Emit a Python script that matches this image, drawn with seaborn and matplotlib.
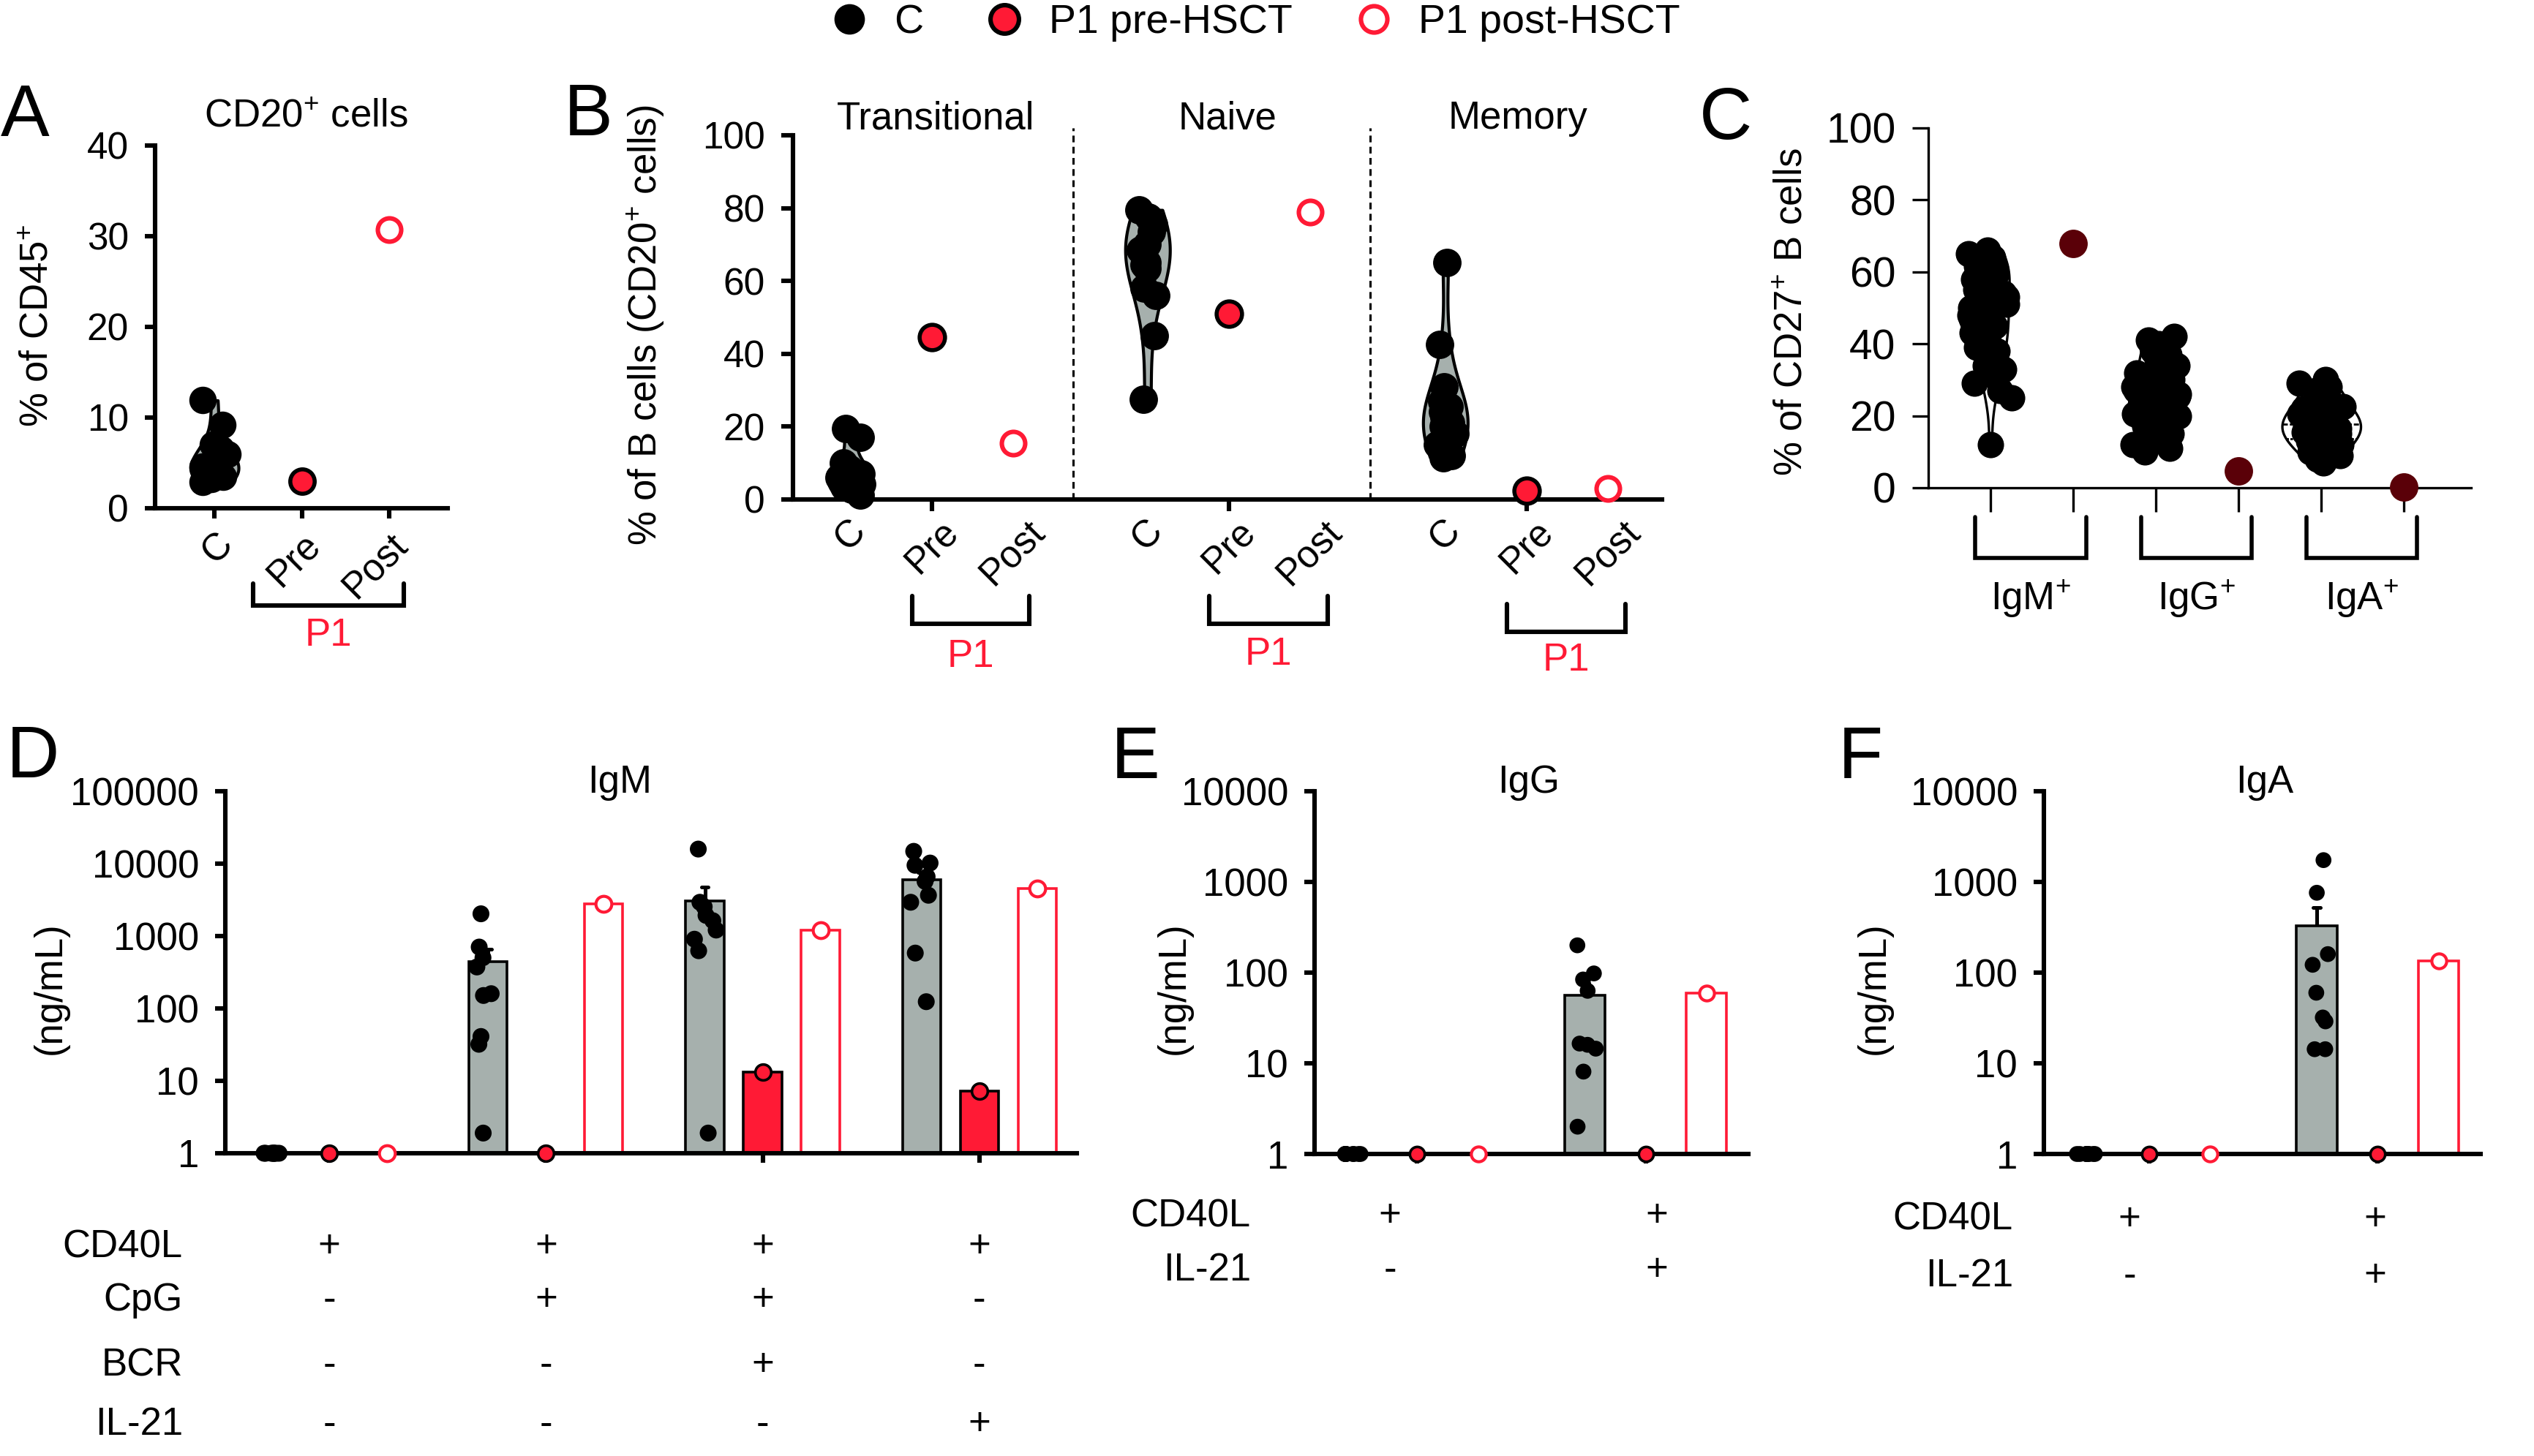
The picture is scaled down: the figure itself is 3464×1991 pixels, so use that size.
import numpy as np
import pandas as pd
import matplotlib
matplotlib.use("Agg")
import matplotlib.pyplot as plt
import matplotlib.transforms as mtransforms
from matplotlib.lines import Line2D
from matplotlib.ticker import NullLocator
import seaborn as sns

np.random.seed(7)

# ------------------------------------------------------------------ data
# A: CD20+ cells, % of CD45+
a_groups = ["C", "Pre", "Post"]
a_ctrl = [11.9, 9.2, 7.0, 6.5, 6.0, 5.5, 5.0, 4.6, 4.2, 4.0, 3.8, 3.5, 3.2, 2.9]
a_pre = [3.0]
a_post = [30.7]

# B: B cell subsets, % of CD20+
b_subsets = ["Transitional", "Naive", "Memory"]
b_trans_ctrl = [19.5, 17.0, 10.0, 8.5, 7.0, 6.0, 5.0, 4.2, 3.5, 2.8, 1.2]
b_naive_ctrl = [79.5, 77.5, 75.5, 73.5, 70.0, 68.5, 65.0, 64.5, 63.5, 58.0, 56.0, 45.0, 27.5]
b_mem_ctrl = [65.0, 42.5, 31.0, 27.0, 25.5, 24.0, 22.5, 21.0, 20.0, 18.0, 15.0, 12.0, 11.5]
b_pre = [44.5, 51.0, 2.5]
b_post = [15.5, 79.0, 3.0]

# C: isotypes, % of CD27+ B cells
c_isotypes = ["IgM", "IgG", "IgA"]
c_igm_ctrl = [66, 65, 64, 63, 62.5, 62, 61.5, 61, 60.5, 60, 59.5, 59, 58, 57, 55, 54, 53,
              52, 51, 50, 49, 48, 47.5, 47, 46, 45, 44, 43, 42, 41, 40, 39, 38, 37, 36, 34,
              33, 31, 29, 27, 25, 12]
c_igg_ctrl = [42, 41, 40, 39, 38, 37, 35.5, 34, 33, 32, 31, 30, 29, 28, 27.5, 27, 26, 25.5,
              25, 24, 23.5, 23, 22, 21.5, 21, 20.5, 20, 19, 18.5, 18, 17, 16, 15, 14, 13,
              12, 11, 10]
c_iga_ctrl = [30, 29, 28, 27, 26, 25, 24, 23, 22.5, 22, 21, 20.5, 20, 19.5, 19, 18.5, 18,
              17.5, 17, 16.5, 16, 15.5, 15, 14.5, 14, 13.5, 13, 12, 11.5, 11, 10, 9, 8, 7]
c_p1 = [67.8, 4.7, 0.2]

# D: IgM secretion (ng/mL)
d_conds = ["CD40L", "CD40L+CpG", "CD40L+CpG+BCR", "CD40L+IL-21"]
igm_ctrl_cd40l = [1, 1, 1, 1, 1, 1, 1, 1, 1]
igm_ctrl_cpg = [2030, 705, 502, 374, 160, 151, 41, 32, 1.9]
igm_ctrl_cpg_bcr = [15900, 2930, 2540, 1930, 1630, 1210, 905, 627, 1.9]
igm_ctrl_il21 = [14800, 10200, 9500, 6600, 5690, 3660, 2930, 582, 124]
igm_pre = [1, 1, 13.1, 7.3]
igm_post = [1, 2810, 1210, 4560]

# E, F: IgG / IgA secretion (ng/mL)
ef_conds = ["CD40L", "CD40L+IL-21"]
igg_ctrl_cd40l = [1, 1, 1, 1, 1, 1, 1, 1, 1]
igg_ctrl_il21 = [200, 98, 84, 63, 16.5, 16, 14.5, 8.1, 2.0]
igg_pre = [1, 1]
igg_post = [1, 60]
iga_ctrl_cd40l = [1, 1, 1, 1, 1, 1, 1, 1, 1]
iga_ctrl_il21 = [1740, 760, 160, 122, 60, 32, 29, 14.3, 14.3]
iga_pre = [1, 1]
iga_post = [1, 134]

# condition tables
d_rows = ["CD40L", "CpG", "BCR", "IL-21"]
d_signs = [["+", "+", "+", "+"], ["-", "+", "+", "-"], ["-", "-", "+", "-"], ["-", "-", "-", "+"]]
ef_rows = ["CD40L", "IL-21"]
ef_signs = [["+", "+"], ["-", "+"]]

# ------------------------------------------------------------------ style
W, H, DPI = 3464, 1991, 200
RED = "#FF1A35"
GREY = "#A6B0AD"
MAROON = "#5A0008"
FS = 19

sns.set_theme(style="ticks")
plt.rcParams.update({
    "font.family": ["Liberation Sans", "DejaVu Sans"],
    "font.size": FS,
    "mathtext.fontset": "custom",
    "mathtext.rm": "Liberation Sans",
    "mathtext.it": "Liberation Sans:italic",
    "mathtext.bf": "Liberation Sans:bold",
    "axes.edgecolor": "black",
    "axes.labelcolor": "black",
    "text.color": "black",
    "xtick.color": "black",
    "ytick.color": "black",
})

fig = plt.figure(figsize=(W / DPI, H / DPI), dpi=DPI)


def fy(py):
    return 1 - py / H


def panel_axes(left, top, right, bottom):
    return fig.add_axes([left / W, fy(bottom), (right - left) / W, (bottom - top) / H])


def style(ax, lw, size, ylen, pad):
    sns.despine(ax=ax)
    for s in ("left", "bottom"):
        ax.spines[s].set_linewidth(lw)
    ax.tick_params(axis="both", width=lw, labelsize=size, direction="out")
    ax.tick_params(axis="y", length=ylen, pad=pad)


def xfig(ax):
    return mtransforms.blended_transform_factory(ax.transData, fig.transFigure)


def bracket(ax, x0, x1, top, bottom, label_y, label="P1", color=RED, lw=2.2):
    tr = xfig(ax)
    ax.plot([x0, x0, x1, x1], [fy(top), fy(bottom), fy(bottom), fy(top)], transform=tr,
            color="black", lw=lw, clip_on=False, solid_joinstyle="miter")
    ax.text((x0 + x1) / 2, fy(label_y), label, transform=tr, ha="center", va="center",
            color=color, fontsize=FS)


# ------------------------------------------------------------------ legend + letters
handles = [
    Line2D([], [], ls="", marker="o", ms=14, mfc="black", mec="black"),
    Line2D([], [], ls="", marker="o", ms=14, mfc=RED, mec="black", mew=2.2),
    Line2D([], [], ls="", marker="o", ms=13, mfc="white", mec=RED, mew=2.2),
]
fig.legend(handles, ["C", "P1 pre-HSCT", "P1 post-HSCT"], loc="center",
           bbox_to_anchor=(0.495, fy(31)), ncol=3, frameon=False, fontsize=20,
           handlelength=1.0, handletextpad=0.6, columnspacing=1.5)

for letter, (px, py) in {"A": (34, 186), "B": (804, 185), "C": (2359, 190),
                         "D": (45, 1063), "E": (1552, 1064), "F": (2543, 1064)}.items():
    fig.text(px / W, fy(py), letter, fontsize=36, ha="center", va="baseline")

# ------------------------------------------------------------------ A
axA = panel_axes(212, 199, 612, 695)
dfA = pd.DataFrame({
    "group": ["C"] * len(a_ctrl) + ["Pre"] * len(a_pre) + ["Post"] * len(a_post),
    "value": a_ctrl + a_pre + a_post,
})
cA = dfA[dfA["group"] == "C"]
sns.violinplot(data=cA, x="group", y="value", order=a_groups, cut=0, inner=None, width=0.55,
               color=GREY, saturation=1, linecolor="black", linewidth=1.5, ax=axA)
sns.stripplot(data=cA, x="group", y="value", order=a_groups, jitter=0.16, color="black",
              size=13.5, linewidth=0, zorder=3, clip_on=False, ax=axA)
sns.stripplot(data=dfA[dfA["group"] == "Pre"], x="group", y="value", order=a_groups,
              jitter=False, color=RED, edgecolor="black", linewidth=2, size=12,
              zorder=3, clip_on=False, ax=axA)
sns.stripplot(data=dfA[dfA["group"] == "Post"], x="group", y="value", order=a_groups,
              jitter=False, color="white", edgecolor=RED, linewidth=2.2, size=11.5,
              zorder=3, clip_on=False, ax=axA)
style(axA, 2.2, 18.5, 5, 8)
axA.set_xlim(-0.68, 2.67)
axA.set_ylim(0, 40)
axA.set_yticks([0, 10, 20, 30, 40])
axA.set_xticks([0, 1, 2])
axA.set_xticklabels(a_groups, rotation=45, ha="right", va="top", rotation_mode="anchor")
axA.tick_params(axis="x", length=5, pad=4)
axA.set_xlabel("")
axA.set_ylabel("% of CD45$^{+}$", fontsize=FS)
axA.yaxis.set_label_coords(-0.34, 0.504)
axA.text(0.515, 1.08, "CD20$^{+}$ cells", transform=axA.transAxes, ha="center", va="center")
bracket(axA, 0.44, 2.17, 798, 828, 869)

# ------------------------------------------------------------------ B
axB = panel_axes(1084, 185, 2272, 683)
b_offsets = [0.0, 3.66, 7.33]
rows = []
for name, off, ctrl, pre, post in zip(b_subsets, b_offsets,
                                       [b_trans_ctrl, b_naive_ctrl, b_mem_ctrl], b_pre, b_post):
    rows += [(name, "C", off, v) for v in ctrl]
    rows += [(name, "Pre", off + 1, pre), (name, "Post", off + 2, post)]
dfB = pd.DataFrame(rows, columns=["subset", "group", "pos", "value"])

for name in b_subsets:
    cB = dfB[(dfB["subset"] == name) & (dfB["group"] == "C")]
    sns.violinplot(data=cB, x="pos", y="value", native_scale=True, orient="x", cut=0,
                   inner=None, width=0.55, color=GREY, saturation=1, linecolor="black",
                   linewidth=1.5, ax=axB)
    sns.stripplot(data=cB, x="pos", y="value", native_scale=True, orient="x", jitter=0.15,
                  color="black", size=14, linewidth=0, zorder=3, clip_on=False, ax=axB)
sns.scatterplot(data=dfB[dfB["group"] == "Pre"], x="pos", y="value", s=12.5 ** 2, color=RED,
                edgecolor="black", linewidth=2, zorder=3, clip_on=False, legend=False, ax=axB)
sns.scatterplot(data=dfB[dfB["group"] == "Post"], x="pos", y="value", s=11.5 ** 2,
                color="white", edgecolor=RED, linewidth=2.2, zorder=3, clip_on=False,
                legend=False, ax=axB)
style(axB, 2.2, 18.5, 5.8, 8)
axB.set_xlim(-0.71, 10.0)
axB.set_ylim(0, 100)
axB.set_yticks([0, 20, 40, 60, 80, 100])
b_pos = [off + k for off in b_offsets for k in range(3)]
b_labels = a_groups * 3
axB.set_xticks(b_pos)
axB.set_xticklabels(b_labels, rotation=45, ha="center", va="top")
axB.tick_params(axis="x", length=5.8, pad=1)
for tick, lab in zip(axB.xaxis.get_major_ticks(), b_labels):
    tick.tick1line.set_visible(lab == "Pre")
axB.set_xlabel("")
axB.set_ylabel("% of B cells (CD20$^{+}$ cells)", fontsize=FS)
axB.yaxis.set_label_coords(-0.146, 0.478)
tr_axB = mtransforms.blended_transform_factory(axB.transData, axB.transAxes)
for xd in [2.74, 6.40]:
    axB.plot([xd, xd], [0, 1.02], transform=tr_axB, color="black", lw=1.1,
             ls=(0, (3, 2)), clip_on=False)
for name, xd in zip(b_subsets, [1.05, 4.65, 8.22]):
    axB.text(xd, 1.046, name, transform=tr_axB, ha="center", va="center", fontsize=FS)
bracket(axB, 0.76, 2.2, 815, 853, 898)
bracket(axB, 4.42, 5.88, 815, 853, 895)
bracket(axB, 8.09, 9.55, 826, 864, 903)

# ------------------------------------------------------------------ C
axC = panel_axes(2636, 175, 3378, 667)
c_order = [f"{iso} {g}" for iso in c_isotypes for g in ("C", "P1")]
rows = []
for iso, ctrl, p1 in zip(c_isotypes, [c_igm_ctrl, c_igg_ctrl, c_iga_ctrl], c_p1):
    rows += [(f"{iso} C", "C", v) for v in ctrl]
    rows.append((f"{iso} P1", "P1", p1))
dfC = pd.DataFrame(rows, columns=["cat", "group", "value"])
cC = dfC[dfC["group"] == "C"]
sns.violinplot(data=cC, x="cat", y="value", order=c_order, cut=0, inner="quart", width=0.95,
               color="white", saturation=1, linecolor="black", linewidth=1.2,
               inner_kws={"linestyle": "-", "linewidth": 1.0, "color": "black"}, ax=axC)
# pick a jitter seed that keeps the lone low IgM value on the violin tip
C_JITTER = 0.28
low_idx = c_igm_ctrl.index(min(c_igm_ctrl))
seed = next(s for s in range(1000)
            if abs(np.random.RandomState(s).uniform(-C_JITTER, C_JITTER, len(cC))[low_idx]) < 0.03)
np.random.seed(seed)
sns.stripplot(data=cC, x="cat", y="value", order=c_order, jitter=C_JITTER, color="black",
              size=13, linewidth=0, zorder=3, clip_on=False, ax=axC)
sns.stripplot(data=dfC[dfC["group"] == "P1"], x="cat", y="value", order=c_order, jitter=False,
              color=MAROON, size=14, linewidth=0, zorder=3, clip_on=False, ax=axC)
style(axC, 1.2, 20.5, 8, 8)
axC.set_xlim(-0.75, 5.81)
axC.set_ylim(0, 100)
axC.set_yticks([0, 20, 40, 60, 80, 100])
axC.set_xticks(range(6))
axC.set_xticklabels([])
axC.tick_params(axis="x", length=12)
axC.set_xlabel("")
axC.set_ylabel("% of CD27$^{+}$ B cells", fontsize=FS)
axC.yaxis.set_label_coords(-0.218, 0.488)
for i, iso in enumerate(c_isotypes):
    bracket(axC, 2 * i - 0.18, 2 * i + 1.16, 707, 763, 819, label=f"{iso}$^{{+}}$",
            color="black", lw=2.0)

# ------------------------------------------------------------------ D, E, F
HUES = ["C", "Pre", "Post"]
BAR_FACE = {"C": GREY, "Pre": RED, "Post": "white"}
BAR_EDGE = {"C": "black", "Pre": "black", "Post": RED}
DOT_FACE = {"C": "black", "Pre": RED, "Post": "white"}


def long_ig(conds, ctrl, pre, post):
    rows = []
    for c, vals in zip(conds, ctrl):
        rows += [(c, "C", v) for v in vals]
    rows += [(c, "Pre", v) for c, v in zip(conds, pre)]
    rows += [(c, "Post", v) for c, v in zip(conds, post)]
    return pd.DataFrame(rows, columns=["cond", "group", "value"])


def ig_panel(ax, df, conds, top, dot, title, title_x, xlim, label_x):
    for g in HUES:
        sns.barplot(data=df[df["group"] == g], x="cond", y="value", hue="group",
                    hue_order=HUES, order=conds, palette=BAR_FACE, saturation=1, dodge=True,
                    gap=0.34, errorbar="se" if g == "C" else None, capsize=0.1,
                    err_kws={"color": "black", "linewidth": 1.8},
                    edgecolor=BAR_EDGE[g], linewidth=1.3, legend=False, ax=ax)
    for ln in ax.lines:
        ln.set_zorder(0.6)  # only the upper half of the SEM bar shows
    sns.stripplot(data=df[df["group"] == "C"], x="cond", y="value", hue="group",
                  hue_order=HUES, order=conds, dodge=True, jitter=0.16, palette=DOT_FACE,
                  size=dot, linewidth=0, legend=False, zorder=3, clip_on=False, ax=ax)
    sns.stripplot(data=df[df["group"] == "Pre"], x="cond", y="value", hue="group",
                  hue_order=HUES, order=conds, dodge=True, jitter=False, palette=DOT_FACE,
                  edgecolor="black", linewidth=1.3, size=dot - 0.5, legend=False, zorder=3,
                  clip_on=False, ax=ax)
    sns.stripplot(data=df[df["group"] == "Post"], x="cond", y="value", hue="group",
                  hue_order=HUES, order=conds, dodge=True, jitter=False, palette=DOT_FACE,
                  edgecolor=RED, linewidth=1.5, size=dot - 0.5, legend=False, zorder=3,
                  clip_on=False, ax=ax)
    ax.set_yscale("log")
    style(ax, 2.2, FS, 5, 8)
    ax.set_ylim(1, top)
    decades = [10 ** k for k in range(int(round(np.log10(top))) + 1)]
    ax.set_yticks(decades)
    ax.set_yticklabels([str(d) for d in decades])
    ax.yaxis.set_minor_locator(NullLocator())
    ax.set_xlim(*xlim)
    ax.set_xticks(range(len(conds)))
    ax.set_xticklabels([])
    ax.tick_params(axis="x", length=4.5)
    ax.set_xlabel("")
    ax.set_ylabel("(ng/mL)", fontsize=FS)
    ax.yaxis.set_label_coords(label_x, 0.457)
    ax.text(title_x, 1.024, title, transform=ax.transAxes, ha="center", va="center")


def cond_table(ax, rows, signs, label_right, ys, xs):
    tr = xfig(ax)
    for name, row, py in zip(rows, signs, ys):
        fig.text(label_right / W, fy(py), name, ha="right", va="center", fontsize=FS)
        for xd, s in zip(xs, row):
            ax.text(xd, fy(py), s, transform=tr, ha="center", va="center", fontsize=FS)


axD = panel_axes(308, 1082, 1472, 1577)
dfD = long_ig(d_conds, [igm_ctrl_cd40l, igm_ctrl_cpg, igm_ctrl_cpg_bcr, igm_ctrl_il21],
              igm_pre, igm_post)
ig_panel(axD, dfD, d_conds, 1e5, 8.3, "IgM", 0.463, (-0.48, 3.45), -0.184)
cond_table(axD, d_rows, d_signs, 250, [1705, 1778, 1867, 1948], [0, 1, 2, 3])

axE = panel_axes(1797, 1082, 2390, 1578)
dfE = long_ig(ef_conds, [igg_ctrl_cd40l, igg_ctrl_il21], igg_pre, igg_post)
ig_panel(axE, dfE, ef_conds, 1e4, 7.8, "IgG", 0.494, (-0.45, 1.45), -0.282)
cond_table(axE, ef_rows, ef_signs, 1710, [1663, 1737], [-0.12, 1.05])

axF = panel_axes(2794, 1082, 3391, 1578)
dfF = long_ig(ef_conds, [iga_ctrl_cd40l, iga_ctrl_il21], iga_pre, iga_post)
ig_panel(axF, dfF, ef_conds, 1e4, 7.8, "IgA", 0.506, (-0.46, 1.45), -0.347)
cond_table(axF, ef_rows, ef_signs, 2752, [1668, 1745], [-0.085, 0.99])

# empty hue subsets leave offset-less scatters that would be drawn at the figure origin
for ax in fig.axes:
    for coll in list(ax.collections):
        if len(coll.get_offsets()) == 0:
            coll.remove()

fig.savefig("out.png", dpi=DPI)
